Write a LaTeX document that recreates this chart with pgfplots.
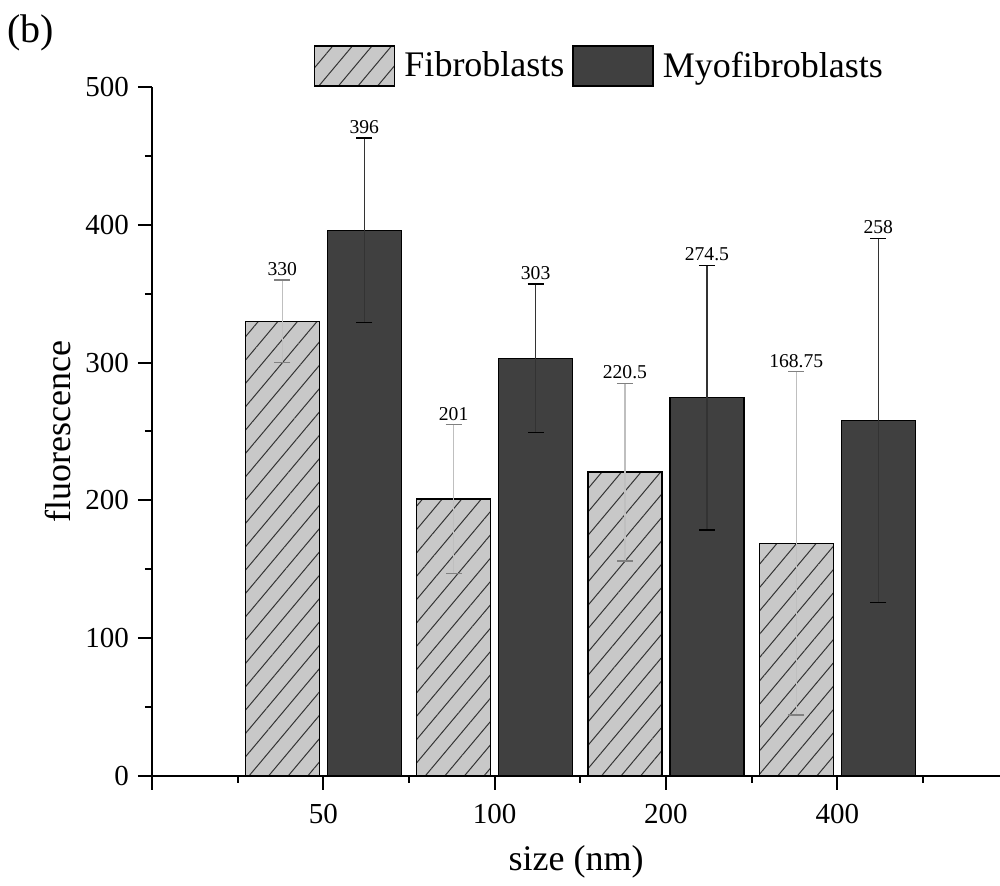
\documentclass[border=0pt]{standalone}
\usepackage{fontspec}
\setmainfont{Liberation Serif}
\usepackage{pgfplots}
\pgfplotsset{compat=1.18}
\usetikzlibrary{patterns.meta}

\definecolor{fibcolor}{HTML}{C8C8C8}
\definecolor{myocolor}{HTML}{404040}

\pgfplotsset{boxlegend/.style={legend image code/.code={\draw[##1] (0pt,-10pt) rectangle (40pt,10pt);}}}

\begin{document}
\begin{tikzpicture}
\useasboundingbox (-76pt,-55pt) rectangle (424pt,388pt);
\begin{axis}[
    scale only axis,
    width=424pt, height=344.5pt,
    xmin=0, xmax=4.95, ymin=0, ymax=500,
    ybar, bar width=37pt,
    clip=false,
    axis x line*=bottom, axis y line*=left,
    axis line style={line width=1pt},
    tick align=outside,
    tick style={black, line width=1pt},
    major tick length=7pt, minor tick length=3.5pt,
    xtick={0,1,2,3,4}, xticklabels={,50,100,200,400},
    minor xtick={0.5,1.5,2.5,3.5,4.5},
    ytick={0,100,200,300,400,500},
    minor ytick={50,150,250,350,450},
    /pgf/number format/assume math mode=true,
    tick label style={font=\fontsize{14.5}{16}\selectfont},
    xticklabel style={yshift=-3.5pt},
    yticklabel style={xshift=-1pt},
    label style={font=\fontsize{18}{20}\selectfont},
    xlabel={size (nm)}, ylabel={fluorescence},
    xlabel style={at={(axis description cs:0.5,-0.1248)}, anchor=center},
    ylabel style={at={(axis description cs:-0.111,0.5)}, anchor=center},
    legend columns=2,
    legend style={draw=none, fill=none,
        at={(axis description cs:0.5265,1.0305)}, anchor=center,
        font=\fontsize{18}{20}\selectfont,
        nodes={inner sep=0pt},
        /tikz/every odd column/.append style={column sep=4.5pt},
        /tikz/every even column/.append style={column sep=4pt}},
]
% Fibroblasts
\addplot[bar shift=-20.5pt,
    draw=black, line width=0.7pt, fill=fibcolor,
    postaction={pattern={Lines[angle=50,distance=7.5pt,line width=0.5pt]}, pattern color=black!80},
    boxlegend,
    error bars/.cd, y dir=both, y explicit,
    error bar style={gray!50, line width=0.6pt},
    error mark options={rotate=90, gray, mark size=4pt, line width=0.6pt}]
    coordinates {(1,330) +- (0,30) (2,201) +- (0,54) (3,220.5) +- (0,64.5) (4,168.75) +- (0,124.5)};
\addlegendentry{Fibroblasts}
% Myofibroblasts
\addplot[bar shift=20.5pt,
    draw=black, line width=0.7pt, fill=myocolor,
    boxlegend,
    error bars/.cd, y dir=both, y explicit,
    error bar style={black!80, line width=0.6pt},
    error mark options={rotate=90, black, mark size=4pt, line width=0.6pt}]
    coordinates {(1,396) +- (0,67) (2,303) +- (0,54) (3,274.5) +- (0,96) (4,258) +- (0,132)};
\addlegendentry{Myofibroblasts}
% value labels above the error bars
\addplot[bar shift=-20.5pt, draw=none, fill=none, forget plot,
    nodes near coords, point meta=explicit symbolic,
    every node near coord/.append style={anchor=south,
        inner sep=2pt, font=\fontsize{9.8}{11}\selectfont}]
    coordinates {(1,360) [330] (2,255) [201] (3,285) [220.5] (4,293.25) [168.75]};
\addplot[bar shift=20.5pt, draw=none, fill=none, forget plot,
    nodes near coords, point meta=explicit symbolic,
    every node near coord/.append style={anchor=south,
        inner sep=2pt, font=\fontsize{9.8}{11}\selectfont}]
    coordinates {(1,463) [396] (2,357) [303] (3,370.5) [274.5] (4,390) [258]};
\node[font=\fontsize{20}{24}\selectfont] at (axis description cs:-0.1427,1.0784) {(b)};
\end{axis}
\end{tikzpicture}
\end{document}
